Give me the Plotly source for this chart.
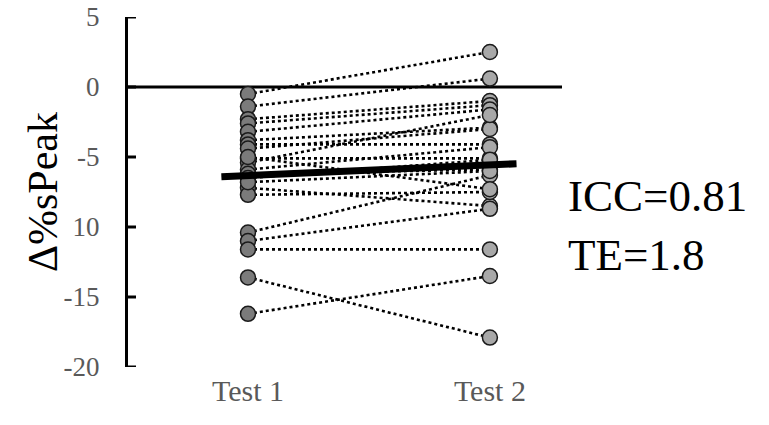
import plotly.graph_objects as go

# Data (paired values, % change)
test1 = [-0.5, -1.4, -2.3, -2.6, -3.2, -3.8, -4.1, -4.4, -5.1, -5.4, -5.9,
         -6.2, -6.5, -7.2, -7.7, -10.4, -11.0, -11.6, -13.6, -16.2, -5.0, -6.8]
test2 = [2.5, 0.6, -1.0, -1.3, -1.6, -2.9, -4.1, -3.0, -5.1, -2.0, -4.3,
         -5.9, -5.2, -8.5, -7.5, -6.3, -8.7, -11.6, -17.9, -13.5, -7.3, -6.0]
categories = ["Test 1", "Test 2"]
ytick_vals = [-20, -15, -10, -5, 0, 5]
ytick_text = ["-20", "-15", "10", "-5", "0", "5"]
stats_text = ["ICC=0.81", "TE=1.8"]
y_title = "Δ%sPeak"

serif = "Liberation Serif, Times New Roman, serif"
X_RANGE = [0.504, 2.298]
PLOT_W = 434

fig = go.Figure()

# paired dotted lines
lx, ly = [], []
for a, b in zip(test1, test2):
    lx += [1, 2, None]
    ly += [a, b, None]
fig.add_trace(go.Scatter(x=lx, y=ly, mode="lines",
                         line=dict(color="black", width=2.6, dash="dot"),
                         hoverinfo="skip", showlegend=False))

fig.add_trace(go.Scatter(x=[1] * len(test1), y=test1, mode="markers",
                         marker=dict(size=15, color="#7b7b7b",
                                     line=dict(color="#1a1a1a", width=1.5)),
                         showlegend=False))
fig.add_trace(go.Scatter(x=[2] * len(test2), y=test2, mode="markers",
                         marker=dict(size=15, color="#a8a8a8",
                                     line=dict(color="#1a1a1a", width=1.5)),
                         showlegend=False))

m1 = sum(test1) / len(test1)
m2 = sum(test2) / len(test2)
fig.add_trace(go.Scatter(x=[0.89, 2.11], y=[m1, m2], mode="lines",
                         line=dict(color="black", width=7),
                         showlegend=False))

# inward tick marks on the y axis (about 8 px long), drawn as a line trace
tick_dx = 8 * (X_RANGE[1] - X_RANGE[0]) / PLOT_W
tx, ty = [], []
for v in ytick_vals:
    tx += [X_RANGE[0], X_RANGE[0] + tick_dx, None]
    ty += [v, v, None]
fig.add_trace(go.Scatter(x=tx, y=ty, mode="lines", cliponaxis=False,
                         line=dict(color="black", width=3),
                         hoverinfo="skip", showlegend=False))

# zero reference line
fig.add_shape(type="line", xref="paper", yref="y", x0=0, x1=1, y0=0, y1=0,
              line=dict(color="black", width=3), layer="below")

fig.update_layout(
    width=769, height=425,
    margin=dict(l=128, r=207, t=17, b=58, autoexpand=False),
    plot_bgcolor="white", paper_bgcolor="white",
    font=dict(family=serif),
    xaxis=dict(range=X_RANGE, tickvals=[1, 2], ticktext=categories,
               showline=False, showgrid=False, zeroline=False, ticks="",
               automargin=False,
               tickfont=dict(size=30, color="#595959"), ticklabelstandoff=3),
    yaxis=dict(range=[-20, 5], tickvals=ytick_vals, ticktext=ytick_text,
               showline=True, linecolor="black", linewidth=3,
               ticks="", showgrid=False, zeroline=False, automargin=False,
               ticklabeloverflow="allow",
               tickfont=dict(size=27, color="#595959"), ticklabelstandoff=20),
)

fig.add_annotation(xref="paper", yref="paper", x=(43 - 128) / PLOT_W, y=0.5,
                   text=y_title, textangle=-90, showarrow=False,
                   font=dict(size=42, color="black", family=serif),
                   xanchor="center", yanchor="middle")

fig.add_annotation(xref="paper", yref="paper", x=(566 - 128) / PLOT_W, y=(367 - 225) / 350,
                   text="<br>".join(stats_text), showarrow=False, align="left",
                   xanchor="left", yanchor="middle",
                   font=dict(size=45, color="black", family=serif))

fig.write_html("out.html", config={"displayModeBar": False},
               post_script="document.body.style.margin='0px';")
